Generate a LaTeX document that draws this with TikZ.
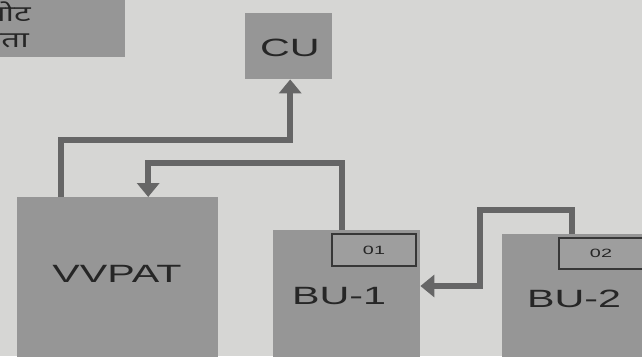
\documentclass[tikz,border=0pt]{standalone}
\usepackage{fontspec}
\setmainfont{Liberation Sans}
\newfontfamily\devfont[Script=Devanagari]{Noto Sans}
\usetikzlibrary{arrows.meta,calc}
\definecolor{bgc}{RGB}{214,214,212}
\definecolor{boxc}{RGB}{150,150,150}
\definecolor{linec}{RGB}{102,102,102}
\definecolor{txtc}{RGB}{38,38,38}
\definecolor{edgec}{RGB}{55,55,55}
\tikzset{
  blk/.style={fill=boxc, draw=none, anchor=north west, inner sep=0pt},
  tag/.style={fill=boxc!92!white, draw=edgec, line width=2pt, anchor=north west, inner sep=0pt},
  big/.style={text=txtc, font=\fontsize{25}{25}\selectfont, inner sep=0pt},
  small/.style={text=txtc, font=\fontsize{12}{12}\selectfont, inner sep=0pt},
  conn/.style={draw=linec, line width=6pt, -{Triangle[width=22pt,length=14pt]}}
}
\newcommand{\wide}[1]{\scalebox{1.65}[1]{#1}}
\begin{document}
\begin{tikzpicture}[x=1pt,y=-1pt]
\useasboundingbox (0,0) rectangle (642,356);
\clip (0,0) rectangle (642,356);
\fill[bgc] (0,0) rectangle (642,356);
% top-left box with cut text
\node[blk, minimum width=125pt, minimum height=57pt] (note) at (0,0) {};
\begin{scope}
\clip (0,0) rectangle (125,57);
\node[text=txtc, anchor=east, inner sep=0pt, font=\devfont\fontsize{22}{22}\selectfont] (n1) at (31,12) {\scalebox{1.5}[1]{वोट}};
\node[text=txtc, anchor=east, inner sep=0pt, font=\devfont\fontsize{22}{22}\selectfont] (n2) at (29,41) {\scalebox{1.5}[1]{मतदाता}};
\end{scope}
% boxes
\node[blk, minimum width=87pt, minimum height=66pt] (cu) at (245,13) {};
\node[blk, minimum width=201pt, minimum height=165pt] (vvpat) at (17,197) {};
\node[blk, minimum width=147pt, minimum height=130pt] (bu1) at (273,230) {};
\node[blk, minimum width=140pt, minimum height=126pt] (bu2) at (502,234) {};
\node[tag, minimum width=84pt, minimum height=32pt] (t1) at (331,233) {};
\node[tag, minimum width=88pt, minimum height=31pt] (t2) at (558,237) {};
% labels
\node[big] (lcu) at (290,48) {\wide{CU}};
\node[big] (lvv) at (117,274) {\wide{VVPAT}};
\node[big] (lb1) at (339,296) {\wide{BU-1}};
\node[big] (lb2) at (574,299) {\wide{BU-2}};
\node[small] (l01) at (t1.center) {\wide{01}};
\node[small] (l02) at (601,253) {\wide{02}};
% connectors
\draw[conn] ([xshift=-56.5pt]vvpat.north) -- ++(0,-57) -| ([xshift=1.5pt]cu.south);
\draw[conn] ([xshift=-4.5pt]bu1.north) -- ++(0,-67) -| ([xshift=30.5pt]vvpat.north);
\coordinate (k) at (480,286);
\draw[conn] (bu2.north) -- ++(0,-24) -| (k) -- (bu1.east |- k);
\end{tikzpicture}
\end{document}
